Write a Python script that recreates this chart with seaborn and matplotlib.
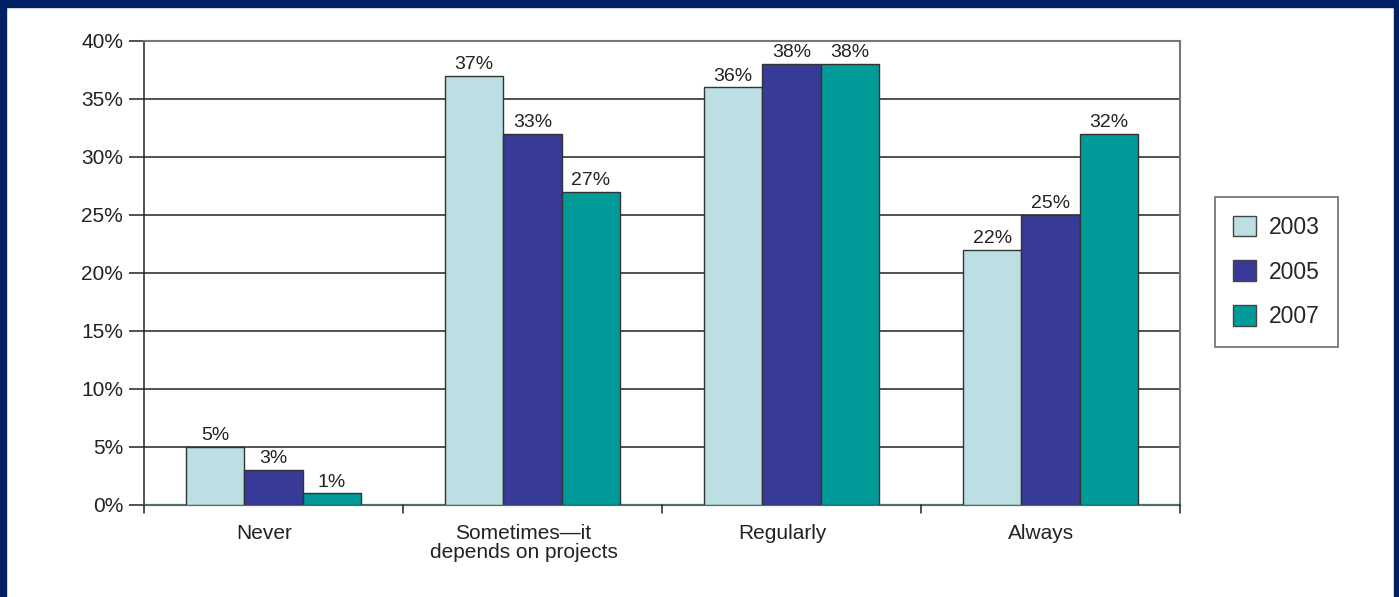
import matplotlib
matplotlib.use("Agg")
import matplotlib.pyplot as plt
import matplotlib.transforms as mtransforms
import seaborn as sns
import pandas as pd
from matplotlib.patches import Rectangle

categories = ["Never", "Sometimes\u2014it\ndepends on projects", "Regularly", "Always"]
years = ["2003", "2005", "2007"]
values_2003 = [5, 37, 36, 22]
values_2005 = [3, 32, 38, 25]
values_2007 = [1, 27, 38, 32]
labels_2003 = ["5%", "37%", "36%", "22%"]
labels_2005 = ["3%", "33%", "38%", "25%"]
labels_2007 = ["1%", "27%", "38%", "32%"]
colors = ["#BCDFE3", "#373A96", "#009B98"]
yticks = [0, 5, 10, 15, 20, 25, 30, 35, 40]

rows = []
for yr, vals in zip(years, [values_2003, values_2005, values_2007]):
    for c, v in zip(categories, vals):
        rows.append({"cat": c, "year": yr, "value": v})
df = pd.DataFrame(rows)

sns.set_theme(style="white")
plt.rcParams["font.family"] = ["Liberation Sans", "DejaVu Sans"]

fig = plt.figure(figsize=(13.99, 5.97), dpi=100)
ax = fig.add_axes([144/1399, 1 - 505/597, (1180-144)/1399, (505-41)/597])

sns.barplot(data=df, x="cat", y="value", hue="year", palette=colors,
            order=categories, hue_order=years, width=0.675, saturation=1,
            edgecolor="#333333", linewidth=1.0, ax=ax, zorder=3, legend=True)

ax.set_ylim(0, 40)
ax.set_xlim(-0.5, 3.5)
ax.set_yticks(yticks)
ax.set_yticklabels([f"{t}%" for t in yticks], fontsize=15, color="#222222")
for t in yticks[1:-1]:
    ax.axhline(t, color="#222222", linewidth=1.1, zorder=1)
ax.set_xticks(range(len(categories)))
ax.set_xticklabels(categories, fontsize=15, color="#222222", linespacing=1.0)
ax.tick_params(axis="x", length=0, pad=14)
ax.tick_params(axis="y", left=True, length=11, width=1.1, color="#222222", pad=4)
shift = mtransforms.ScaledTranslation(-9/100, 0, fig.dpi_scale_trans)
for lab in ax.get_xticklabels():
    lab.set_transform(lab.get_transform() + shift)
ax.set_xlabel("")
ax.set_ylabel("")
# category boundary ticks below axis
for b in [-0.5, 0.5, 1.5, 2.5, 3.5]:
    ax.plot([b, b], [0, -0.7], color="#222222", linewidth=1.1, clip_on=False, zorder=4)

for side in ["top", "right"]:
    ax.spines[side].set_color("#777777")
    ax.spines[side].set_linewidth(1.5)
ax.spines["left"].set_color("#222222")
ax.spines["left"].set_linewidth(1.1)
ax.spines["bottom"].set_color("#4F6F6C")
ax.spines["bottom"].set_linewidth(1.6)

for cont, labs in zip(ax.containers, [labels_2003, labels_2005, labels_2007]):
    ax.bar_label(cont, labels=labs, padding=2, fontsize=14, color="#222222")

handles, lbls = ax.get_legend_handles_labels()
leg = ax.legend(handles, lbls, loc="center left", bbox_to_anchor=((1215-144)/(1180-144), (505-272)/(505-41)),
                frameon=True, fancybox=False, fontsize=16.5, handlelength=1.0, handleheight=1.0,
                labelspacing=0.95, borderpad=0.8, handletextpad=0.55, borderaxespad=0)
leg.get_frame().set_edgecolor("#555555")
leg.get_frame().set_linewidth(1.3)
for h in leg.legend_handles:
    h.set_edgecolor("#444444")

navy = "#002066"
fig.patches.append(Rectangle((0, 1 - 7/597), 1, 7/597, transform=fig.transFigure, color=navy, zorder=10))
fig.patches.append(Rectangle((0, 0), 6/1399, 1, transform=fig.transFigure, color=navy, zorder=10))
fig.patches.append(Rectangle((1 - 5/1399, 0), 5/1399, 1, transform=fig.transFigure, color=navy, zorder=10))

fig.savefig("out.png", dpi=100)
